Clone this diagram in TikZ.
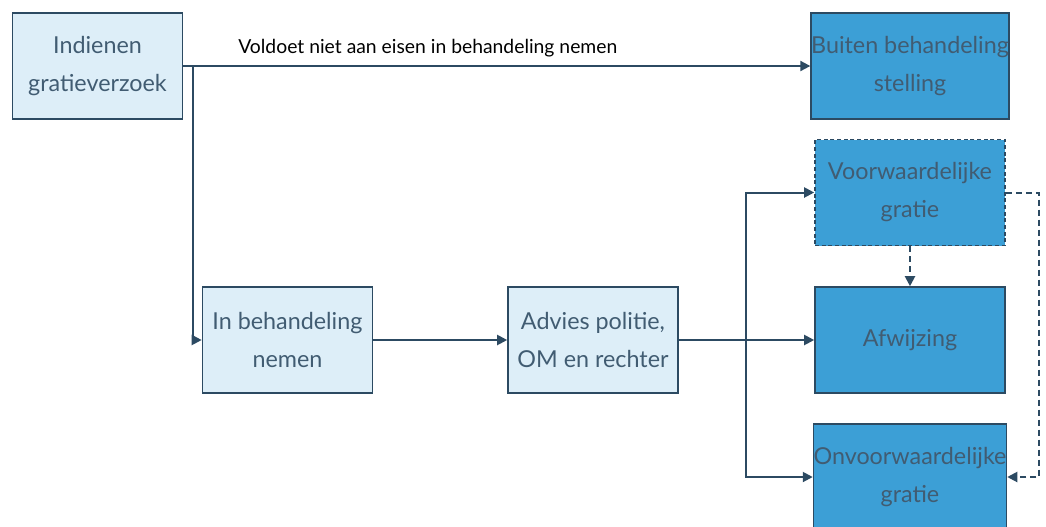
\documentclass[tikz,border=0pt]{standalone}
\usepackage{fontspec}
\setmainfont{Lato}
\usetikzlibrary{arrows.meta}

\definecolor{lijn}{HTML}{2C4A62}
\definecolor{licht}{HTML}{DDEEF8}
\definecolor{donker}{HTML}{3C9FD6}

\tikzset{
  stap/.style={draw=lijn,fill=licht,text=lijn!90,line width=1.2pt,
    minimum width=127.5pt,minimum height=79.5pt,inner sep=0pt,align=center,
    font=\fontsize{17.5}{28.5}\selectfont},
  uitkomst/.style={stap,fill=donker,minimum width=142.5pt},
  pijl/.style={draw=lijn,line width=1.5pt,-{Triangle[length=7.5pt,width=7.5pt]}},
  stippel/.style={dash pattern=on 4.5pt off 3pt}
}

\begin{document}
\begin{tikzpicture}[x=0.75pt,y=-0.75pt,line join=miter]
  \useasboundingbox (0,0) rectangle (1046,526);

  % aanvraag en behandeling
  \node[stap] (indienen) at (97.5,66) {Indienen\\gratieverzoek};
  \node[stap] (inbeh) at (287.5,340) {In behandeling\\nemen};
  \node[stap] (advies) at (593,340) {Advies politie,\\OM en rechter};

  % uitkomsten
  \node[uitkomst] (buiten) at (910,66) {Buiten behandeling\\stelling};
  \node[uitkomst,dash pattern=on 3pt off 2pt] (voorw) at (910,192.5) {Voorwaardelijke\\gratie};
  \node[uitkomst] (afw) at (910,340) {Afwijzing};
  \node[uitkomst] (onvoorw) at (910,477) {Onvoorwaardelijke\\gratie};

  \draw[pijl] (indienen.east) -- (buiten.west)
    node[pos=0.39,above=3pt,text=black,font=\fontsize{14.5}{16}\selectfont]
      {Voldoet niet aan eisen in behandeling nemen};
  \draw[pijl] ([xshift=7.5pt]indienen.east) |- (inbeh.west);
  \draw[pijl] (inbeh) -- (advies);
  \draw[pijl] (advies) -- (afw);

  \coordinate (tak) at (746,340);
  \draw[pijl] (tak) |- (voorw.west);
  \draw[pijl] (tak) |- (onvoorw.west);

  % voorwaardelijk kan alsnog worden omgezet
  \draw[pijl,stippel] (voorw.south) -- (afw.north);
  \draw[pijl,stippel] (voorw.east) -- ++(33,0) |- (onvoorw.east);
\end{tikzpicture}
\end{document}
